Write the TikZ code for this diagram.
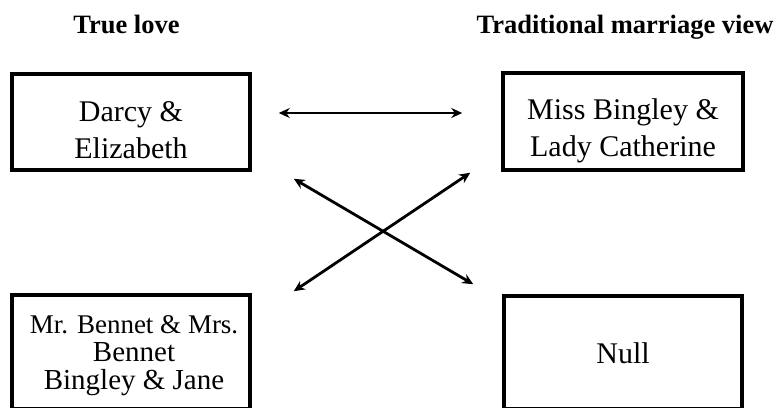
\documentclass[tikz,border=0pt]{standalone}
\usepackage{fontspec}
\setmainfont{Liberation Serif}
\usetikzlibrary{arrows.meta,calc}
\tikzset{
  boxnode/.style={draw=black, line width=3.5pt, rectangle, inner sep=0pt},
  boxtext/.style={align=center, inner sep=0pt, font=\fontsize{30}{37}\selectfont},
  titletext/.style={anchor=base, inner sep=0pt, font=\fontsize{26.5}{30}\selectfont\bfseries},
  link/.style={line width=2.8pt, {Stealth[length=11pt,width=10pt]}-{Stealth[length=11pt,width=10pt]}}
}
\begin{document}
\begin{tikzpicture}[x=1pt,y=-1pt]
\useasboundingbox (0,0) rectangle (781,407);
\clip (0,0) rectangle (781,407);
\fill[white] (0,0) rectangle (781,407);
% titles
\node[titletext] (t1) at (126.5,33) {True love};
\node[titletext] (t2) at (625,33) {Traditional marriage view};
% boxes
\node[boxnode, minimum width=238pt, minimum height=96pt] (dar) at (131,122) {};
\node[boxnode, minimum width=240pt, minimum height=97pt] (miss) at (623,121.5) {};
\node[boxnode, minimum width=238pt, minimum height=114pt] (bl) at (131,352) {};
\node[boxnode, minimum width=238pt, minimum height=113pt] (null) at (623,352.5) {};
% texts
\node[boxtext] (dartext) at (131,130.5) {Darcy \&\\Elizabeth};
\node[boxtext] (misstext) at (623,130.5) {Miss Bingley \&\\Lady Catherine};
\node[boxtext, font=\fontsize{29}{28}\selectfont] (bltext) at (134,356) {{\fontsize{27}{28}\selectfont Mr. Bennet \& Mrs.}\\Bennet\\Bingley \& Jane};
\node[boxtext] (nulltext) at (623,353.5) {Null};
% connectors
\draw[link] ($(dar.east)+(27,-9)$) -- ($(miss.west)+(-39,-8.5)$);
\draw[link] ($(dar.south east)+(42,7)$) -- ($(null.north west)+(-29,-10)$);
\draw[link] ($(bl.north east)+(42,-2)$) -- ($(miss.south west)+(-31,1)$);
\end{tikzpicture}
\end{document}
